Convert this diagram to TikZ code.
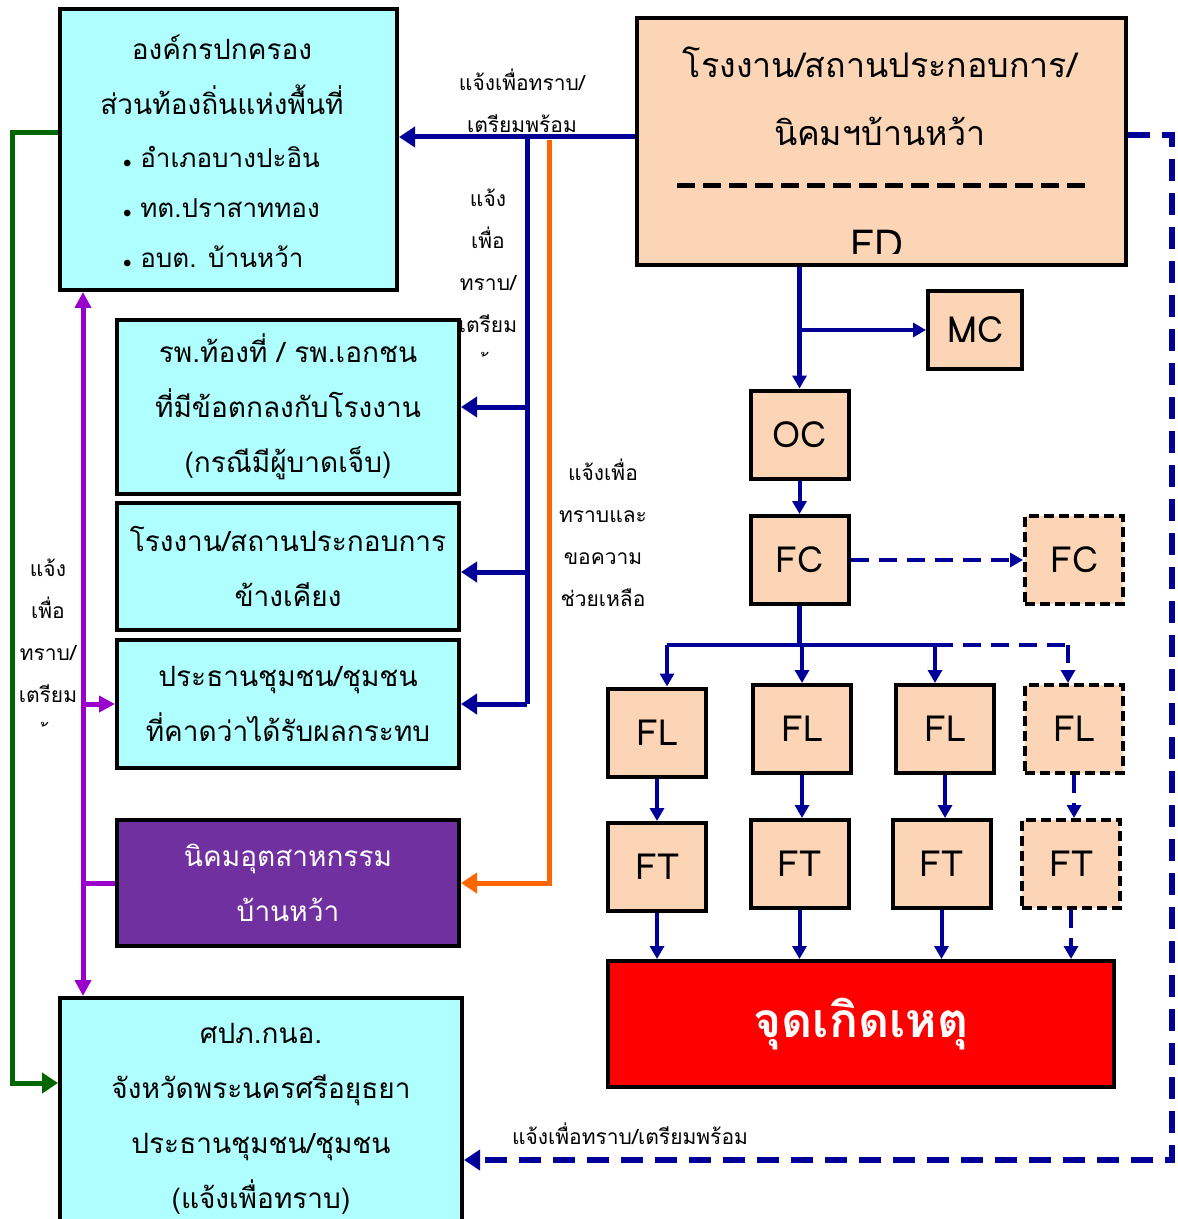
\documentclass[tikz,border=0pt]{standalone}
\usepackage{fontspec}
\setmainfont[Script=Thai]{Loma}
\usetikzlibrary{arrows.meta}
\definecolor{skyfill}{HTML}{B0FFFF}
\definecolor{peachfill}{HTML}{FBD5B5}
\definecolor{navyline}{HTML}{000099}
\definecolor{orangeline}{HTML}{FF6600}
\definecolor{greenline}{HTML}{006600}
\definecolor{violetline}{HTML}{9900CC}
\definecolor{estatefill}{HTML}{7030A0}
\newcommand{\dotmark}{{\fontsize{8}{8}\selectfont$\bullet$}}

\begin{document}
\begin{tikzpicture}[x=0.5pt, y=-0.5pt,
    >={Triangle[length=6.5pt, width=7pt]},
    sky/.style={draw, line width=2pt, fill=skyfill, inner sep=0pt, align=center, font=\fontsize{14}{27.5}\selectfont},
    peach/.style={draw, line width=2pt, fill=peachfill, inner sep=0pt, minimum width=49pt, minimum height=44pt, font=\fontsize{18}{20}\selectfont},
    ghost/.style={peach, dash pattern=on 5pt off 2.5pt},
    note/.style={align=center, font=\fontsize{10.5}{21}\selectfont},
    flow/.style={->, draw=navyline, line width=2pt},
    bigflow/.style={->, draw=navyline, line width=2.5pt, >={Triangle[length=8pt, width=10pt]}},
    dashflow/.style={flow, line width=2.25pt, dash pattern=on 9pt off 5pt},
  ]
\useasboundingbox (0,0) rectangle (1177,1219);
\fill[white] (0,0) rectangle (1177,1219);

% left column
\node[sky, minimum width=168.5pt, minimum height=140.5pt] (org) at (228.5,149.5) {};
\node[font=\fontsize{14}{27.5}\selectfont, align=center] (orgtitle) at (222,74.5) {องค์กรปกครอง\\ส่วนท้องถิ่นแห่งพื้นที่};
\node[font=\fontsize{13}{25}\selectfont, align=left, anchor=west] (orglist) at (116,207) {\dotmark\ อำเภอบางปะอิน\\\dotmark\ ทต.ปราสาททอง\\\dotmark\ อบต. บ้านหว้า};
\node[sky, minimum width=171pt, minimum height=87pt] (hosp) at (288,407) {รพ.ท้องที่ / รพ.เอกชน\\ที่มีข้อตกลงกับโรงงาน\\(กรณีมีผู้บาดเจ็บ)};
\node[sky, minimum width=171pt, minimum height=63.5pt] (nearby) at (288,566.5) {โรงงาน/สถานประกอบการ\\ข้างเคียง};
\node[sky, minimum width=171pt, minimum height=64pt] (chief) at (288,704) {ประธานชุมชน/ชุมชน\\ที่คาดว่าได้รับผลกระทบ};
\node[sky, fill=estatefill, text=white, minimum width=171pt, minimum height=63pt] (estate) at (288,883) {นิคมอุตสาหกรรม\\บ้านหว้า};
\node[sky, minimum width=201pt, minimum height=121pt] (pv) at (261,1119) {ศปภ.กนอ.\\จังหวัดพระนครศรีอยุธยา\\ประธานชุมชน/ชุมชน\\(แจ้งเพื่อทราบ)};

% right column
\node[peach, minimum width=244.5pt, minimum height=123.5pt] (fd) at (881.5,141.5) {};
\node[font=\fontsize{17}{34}\selectfont, align=center] (fdtitle) at (880,96) {โรงงาน/สถานประกอบการ/\\นิคมฯบ้านหว้า};
\draw[line width=2.5pt, dash pattern=on 9pt off 4pt] (677,186) -- (1085,186);
\begin{scope}
  \clip (640,20) rectangle (1124,254);
  \node[font=\fontsize{20}{20}\selectfont, anchor=base] (fdcode) at (877,259) {FD};
\end{scope}
\node[peach, minimum width=47pt, minimum height=39pt] (mc) at (975,330) {MC};
\node[peach] (oc) at (799.5,434.5) {OC};
\node[peach] (fc) at (799.5,560) {FC};
\node[ghost] (fcx) at (1074,560) {FC};
\node[peach] (fl1) at (657,732.5) {FL};
\node[peach] (fl2) at (802,729) {FL};
\node[peach] (fl3) at (945,729) {FL};
\node[ghost] (fl4) at (1074,729) {FL};
\node[peach] (ft1) at (657,867) {FT};
\node[peach] (ft2) at (799.5,864) {FT};
\node[peach] (ft3) at (941.5,864) {FT};
\node[ghost] (ft4) at (1071,864) {FT};
\node[draw, line width=2pt, fill=red, text=white, minimum width=253pt, minimum height=63pt, font=\fontsize{24}{24}\selectfont\bfseries] (site) at (861,1024) {จุดเกิดเหตุ};

% labels
\node[note] (lbltop) at (522,101) {แจ้งเพื่อทราบ/\\เตรียมพร้อม};
\node[note] (lbltrunk) at (488,282) {แจ้ง\\เพื่อ\\ทราบ/\\เตรียม\\้};
\node[note] (lblhelp) at (603,533) {แจ้งเพื่อ\\ทราบและ\\ขอความ\\ช่วยเหลือ};
\node[note] (lblleft) at (48,652) {แจ้ง\\เพื่อ\\ทราบ/\\เตรียม\\้};
\node[note] (lblbottom) at (630,1134) {แจ้งเพื่อทราบ/เตรียมพร้อม};

% connectors
\coordinate (trunk) at (527,137);
\coordinate (help) at (549,140);
\coordinate (spine) at (83,500);
\coordinate (rim) at (1172,135);
\coordinate (bus) at (800,645);
\draw[bigflow] ([yshift=2.25pt]fd.west) -- ([yshift=6.25pt]org.east);
\draw[draw=navyline, line width=2.5pt] (trunk) -- (trunk |- chief.east);
\draw[bigflow] (trunk |- hosp.east) -- (hosp.east);
\draw[bigflow] ([yshift=-2.75pt]trunk |- nearby.east) -- ([yshift=-2.75pt]nearby.east);
\draw[bigflow] (trunk |- chief.east) -- (chief.east);
\draw[->, draw=orangeline, line width=2.5pt, >={Triangle[length=8pt, width=10pt]}] (help) -- (help |- estate.east) -- (estate.east);
\draw[->, draw=greenline, line width=2.5pt, >={Triangle[length=8pt, width=10pt]}] ([yshift=8.25pt]org.west) -- ++(-46,0) |- ([yshift=18pt]pv.west);
\draw[<->, draw=violetline, line width=2.5pt, >={Triangle[length=8pt, width=8pt]}] (spine |- org.south) -- (spine |- pv.north);
\draw[->, draw=violetline, line width=2.5pt, >={Triangle[length=8pt, width=8pt]}] (spine |- chief.west) -- (chief.west);
\draw[draw=violetline, line width=2.5pt] (estate.west) -- (spine |- estate.west);
\draw[->, draw=navyline, line width=3pt, dash pattern=on 11pt off 6pt, >={Triangle[length=8pt, width=10pt]}] ([yshift=3.25pt]fd.east) -- (rim) |- ([yshift=-20.5pt]pv.east);
\draw[flow, line width=2.25pt] (oc.north |- fd.south) -- (oc.north);
\draw[flow, line width=2.25pt] (oc.north |- mc.west) -- (mc.west);
\draw[flow] (oc) -- (fc);
\draw[dashflow] (fc) -- (fcx);
\draw[draw=navyline, line width=2.25pt] (fc.south) -- (fc.south |- bus);
\draw[draw=navyline, line width=2.25pt] ([xshift=5pt]fl1.north |- bus) -- ([xshift=-5pt]fl3.north |- bus);
\draw[draw=navyline, line width=2.25pt, dash pattern=on 9pt off 5pt] ([xshift=-5pt]fl3.north |- bus) -- ([xshift=-3pt]fl4.north |- bus);
\draw[flow] ([xshift=5pt]fl1.north |- bus) -- ([xshift=5pt]fl1.north);
\draw[flow] (fl2.north |- bus) -- (fl2.north);
\draw[flow] ([xshift=-5pt]fl3.north |- bus) -- ([xshift=-5pt]fl3.north);
\draw[dashflow] ([xshift=-3pt]fl4.north |- bus) -- ([xshift=-3pt]fl4.north);
\draw[flow] (fl1) -- (ft1);
\draw[flow] (fl2.south) -- (fl2.south |- ft2.north);
\draw[flow] (fl3.south) -- (fl3.south |- ft3.north);
\draw[dashflow] (fl4.south) -- (fl4.south |- ft4.north);
\draw[flow] (ft1.south) -- (ft1.south |- site.north);
\draw[flow] (ft2.south) -- (ft2.south |- site.north);
\draw[flow] (ft3.south) -- (ft3.south |- site.north);
\draw[dashflow] (ft4.south) -- (ft4.south |- site.north);
\end{tikzpicture}
\end{document}
